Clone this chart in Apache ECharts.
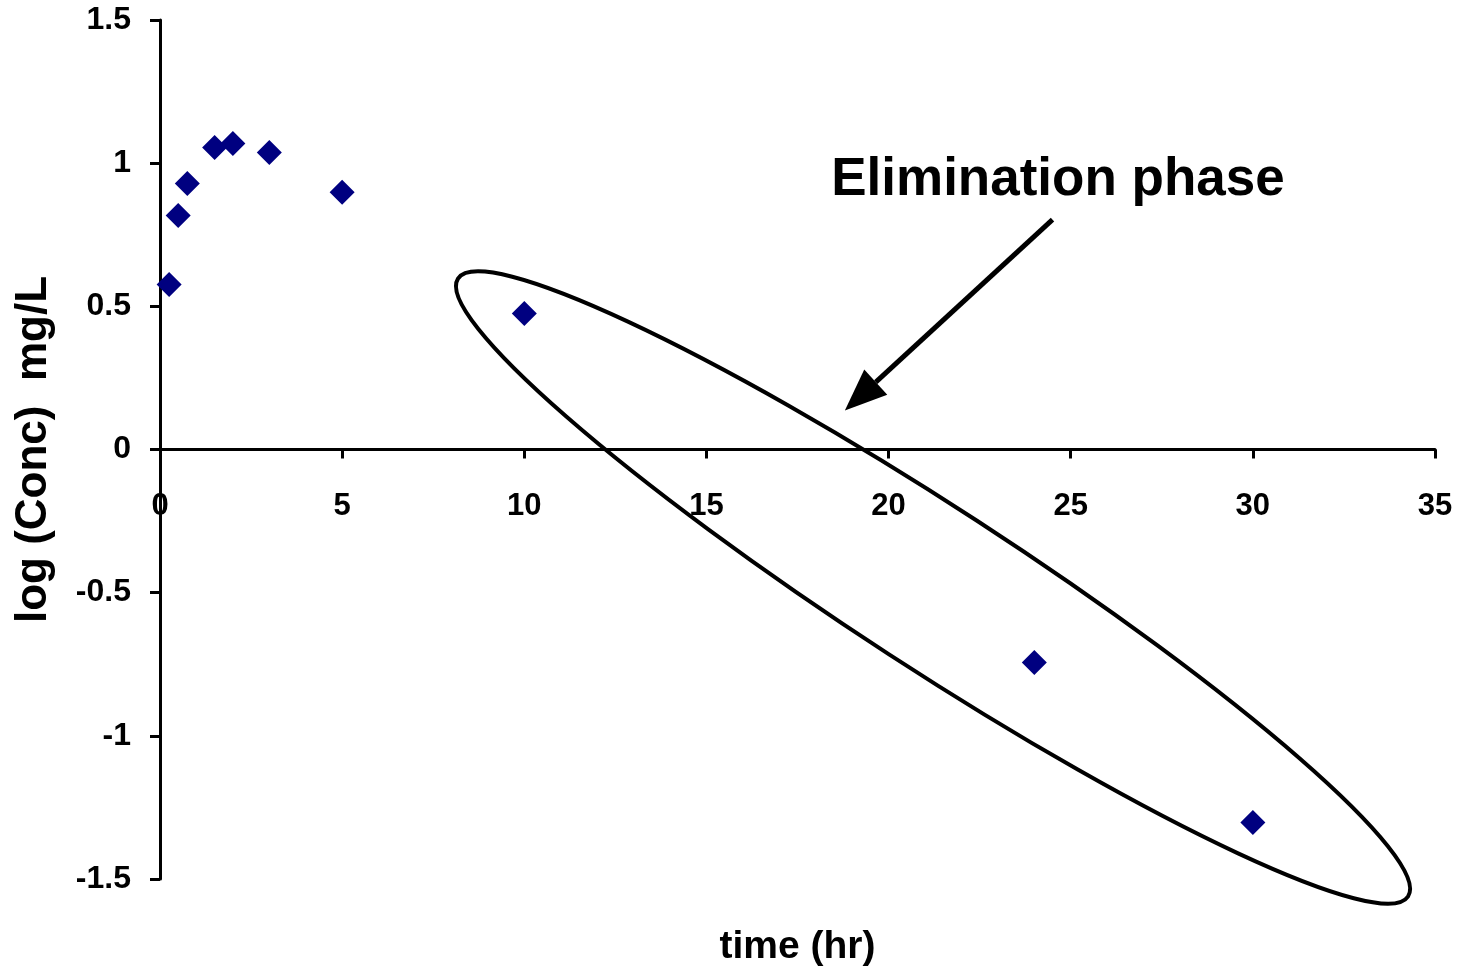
<!DOCTYPE html>
<html>
<head>
<meta charset="utf-8">
<script src="https://cdn.jsdelivr.net/npm/echarts@6/dist/echarts.min.js"></script>
<style>
  html, body { margin: 0; padding: 0; background: #fff; }
  #main { width: 1464px; height: 968px; }
</style>
</head>
<body>
<div id="main"></div>
<script>
// time (hr) and log concentration
var timeHr = [0.25, 0.5, 0.75, 1.5, 2, 3, 5, 10, 24, 30];
var logConc = [0.576, 0.817, 0.929, 1.055, 1.069, 1.037, 0.898, 0.475, -0.744, -1.303];

var xTicks = [0, 35, 5];      // min, max, interval
var yTicks = [-1.5, 1.5, 0.5];

// annotation anchors in data coordinates
var ellipseEnds = [[8.18, 0.597], [34.26, -1.561]];
var arrowFrom = [24.5, 0.803];
var arrowTo = [18.8, 0.136];
var labelAt = [24.65, 0.94];
var labelText = 'Elimination phase';

var FONT = '"Liberation Sans", Arial, sans-serif';

var points = timeHr.map(function (t, i) { return [t, logConc[i]]; });

var grid = { left: 160, right: 29, top: 20, bottom: 89 };
// x axis sits at y = 0, i.e. halfway up the plot
var xOffset = -(968 - grid.top - grid.bottom) / 2;

var chart = echarts.init(document.getElementById('main'));

chart.setOption({
  animation: false,
  backgroundColor: '#fff',
  grid: Object.assign({ containLabel: false, outerBoundsMode: 'none' }, grid),
  xAxis: {
    type: 'value',
    position: 'bottom',
    offset: xOffset,
    min: xTicks[0], max: xTicks[1], interval: xTicks[2],
    name: 'time (hr)',
    nameLocation: 'middle',
    nameGap: 478,
    nameTextStyle: { fontFamily: FONT, fontWeight: 'bold', fontSize: 39, color: '#000' },
    axisLine: { onZero: false, lineStyle: { color: '#000', width: 3 } },
    axisTick: { show: true, inside: false, length: 9, lineStyle: { color: '#000', width: 3 } },
    axisLabel: { margin: 41, fontFamily: FONT, fontWeight: 'bold', fontSize: 31, color: '#000' },
    splitLine: { show: false }
  },
  yAxis: {
    type: 'value',
    min: yTicks[0], max: yTicks[1], interval: yTicks[2],
    name: 'log (Conc)  mg/L',
    nameLocation: 'middle',
    nameGap: 104,
    nameTextStyle: { fontFamily: FONT, fontWeight: 'bold', fontSize: 44, color: '#000' },
    axisLine: { onZero: false, lineStyle: { color: '#000', width: 3 } },
    axisTick: { show: true, inside: false, length: 10, lineStyle: { color: '#000', width: 3 } },
    axisLabel: { margin: 29, fontFamily: FONT, fontWeight: 'bold', fontSize: 32, color: '#000' },
    splitLine: { show: false }
  },
  series: [{
    type: 'scatter',
    data: points,
    symbol: 'diamond',
    symbolSize: 25,
    itemStyle: { color: '#000080', opacity: 1 },
    z: 5
  }]
});

function px(p) { return chart.convertToPixel({ gridIndex: 0 }, p); }

// ellipse around the elimination points
var e1 = px(ellipseEnds[0]), e2 = px(ellipseEnds[1]);
var ecx = (e1[0] + e2[0]) / 2, ecy = (e1[1] + e2[1]) / 2;
var eang = Math.atan2(e2[1] - e1[1], e2[0] - e1[0]);
var erx = Math.hypot(e2[0] - e1[0], e2[1] - e1[1]) / 2;

// arrow
var a0 = px(arrowFrom), a1 = px(arrowTo);
var ang = Math.atan2(a1[1] - a0[1], a1[0] - a0[0]);
var headLen = 42, headHalf = 17;
var bx = a1[0] - headLen * Math.cos(ang), by = a1[1] - headLen * Math.sin(ang);
var head = [
  a1,
  [bx + headHalf * Math.sin(ang), by - headHalf * Math.cos(ang)],
  [bx - headHalf * Math.sin(ang), by + headHalf * Math.cos(ang)]
];
var lab = px(labelAt);

chart.setOption({
  graphic: [
    {
      type: 'ellipse',
      x: ecx, y: ecy,
      rotation: -eang,
      shape: { cx: 0, cy: 0, rx: erx, ry: 80 },
      style: { fill: null, stroke: '#000', lineWidth: 4 },
      z: 10
    },
    {
      type: 'line',
      shape: { x1: a0[0], y1: a0[1], x2: bx, y2: by },
      style: { stroke: '#000', lineWidth: 5 },
      z: 10
    },
    {
      type: 'polygon',
      shape: { points: head },
      style: { fill: '#000' },
      z: 10
    },
    {
      type: 'text',
      x: lab[0], y: lab[1],
      style: {
        text: labelText,
        font: 'bold 53px ' + FONT,
        fill: '#000',
        align: 'center',
        verticalAlign: 'middle'
      },
      z: 10
    }
  ]
});
</script>
</body>
</html>
